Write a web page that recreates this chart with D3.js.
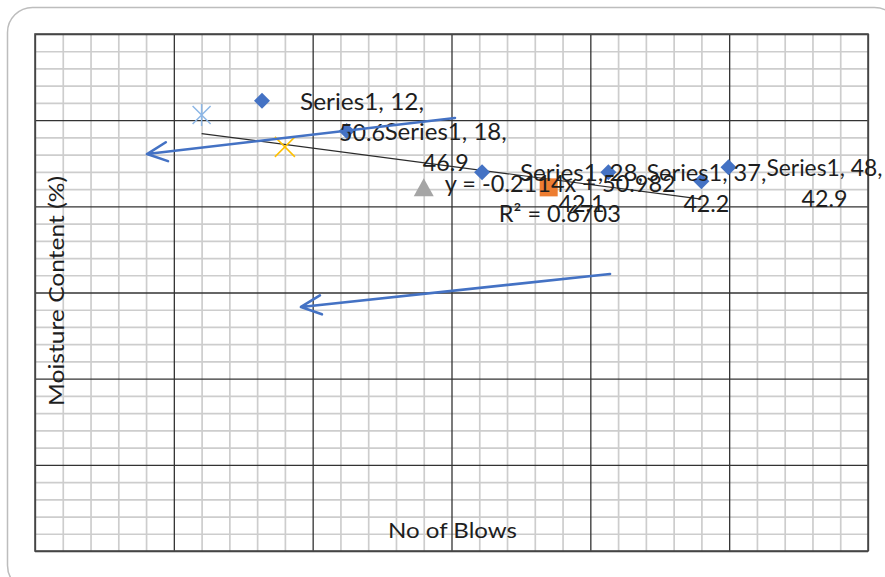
<!DOCTYPE html>
<html>
<head>
<meta charset="utf-8">
<script src="https://cdn.jsdelivr.net/npm/d3@7/dist/d3.min.js"></script>
<style>
  html, body { margin: 0; padding: 0; background: #fff; }
  svg { display: block; }
  text { font-family: Lato, "Open Sans", "Liberation Sans", sans-serif; fill: #1e1e1e; }
</style>
</head>
<body>
<div id="chart"></div>
<script>
// ---------------- data ----------------
const blows = [12, 18, 28, 37, 48];
const moisture = [50.6, 46.9, 42.1, 42.2, 42.9];
const seriesNames = ["Series1", "Series1", "Series1", "Series1", "Series1"];
// displaced copy of the points that carries the data labels (as drawn in the picture)
const labelBlows = [16.35, 22.45, 32.2, 41.3, 49.95];
const labelMoisture = [52.25, 48.74, 43.95, 43.95, 44.55];
const trendSlope = -0.2114;
const trendIntercept = 50.982;
const trendR2 = 0.6703;
const trendLabelAt = [37.8, 41.7];
const xDomain = [0, 60];
const yDomain = [0, 60];
const minorStep = 2;
const majorStep = 10;
const xTitle = "No of Blows";
const yTitle = "Moisture Content (%)";
// annotation arrows (data units): start -> tip
const arrowStart = [[30.25, 50.25], [41.42, 32.15]];
const arrowTip = [[8.07, 46.07], [19.16, 28.32]];

// ---------------- layout / style ----------------
const W = 885, H = 577;
const plot = { left: 35, right: 868, top: 34, bottom: 551 };
const markerShapes = ["asterisk", "x", "triangle", "square", "diamond"];
const markerColors = ["#8db7e6", "#ffc000", "#a5a5a5", "#ed7d31", "#4472c4"];
const labelLineWidths = [124, 122, 123, 120, 116];

const svg = d3.select("#chart").append("svg").attr("width", W).attr("height", H);

// chart outer border (rounded, partly outside the window)
svg.append("rect")
  .attr("x", 7.5).attr("y", 7.5).attr("width", 892).attr("height", 583)
  .attr("rx", 25).attr("ry", 25)
  .attr("fill", "#fff").attr("stroke", "#bdbdbd").attr("stroke-width", 1.5);

const x = d3.scaleLinear().domain(xDomain).range([plot.left, plot.right]);
const y = d3.scaleLinear().domain(yDomain).range([plot.bottom, plot.top]);

const g = svg.append("g");

const xMinor = d3.range(xDomain[0], xDomain[1] + 0.001, minorStep).filter(v => v % majorStep !== 0);
const yMinor = d3.range(yDomain[0], yDomain[1] + 0.001, minorStep).filter(v => v % majorStep !== 0);
const xMajor = d3.range(xDomain[0], xDomain[1] + 0.001, majorStep);
const yMajor = d3.range(yDomain[0], yDomain[1] + 0.001, majorStep);

// minor grid via axes
g.append("g").attr("transform", `translate(0,${plot.bottom})`)
  .call(d3.axisBottom(x).tickValues(xMinor).tickSize(-(plot.bottom - plot.top)).tickFormat(""))
  .call(s => s.select(".domain").remove())
  .call(s => s.selectAll("line").attr("stroke", "#cdcdcd").attr("stroke-width", 1.7));
g.append("g").attr("transform", `translate(${plot.left},0)`)
  .call(d3.axisLeft(y).tickValues(yMinor).tickSize(-(plot.right - plot.left)).tickFormat(""))
  .call(s => s.select(".domain").remove())
  .call(s => s.selectAll("line").attr("stroke", "#cdcdcd").attr("stroke-width", 1.7));
// major grid
g.append("g").attr("transform", `translate(0,${plot.bottom})`)
  .call(d3.axisBottom(x).tickValues(xMajor).tickSize(-(plot.bottom - plot.top)).tickFormat(""))
  .call(s => s.select(".domain").remove())
  .call(s => s.selectAll("line").attr("stroke", "#333").attr("stroke-width", 1.3));
g.append("g").attr("transform", `translate(${plot.left},0)`)
  .call(d3.axisLeft(y).tickValues(yMajor).tickSize(-(plot.right - plot.left)).tickFormat(""))
  .call(s => s.select(".domain").remove())
  .call(s => s.selectAll("line").attr("stroke", "#333").attr("stroke-width", 1.3));
// plot border
g.append("rect")
  .attr("x", x(xDomain[0])).attr("y", y(yDomain[1]))
  .attr("width", x(xDomain[1]) - x(xDomain[0])).attr("height", y(yDomain[0]) - y(yDomain[1]))
  .attr("fill", "none").attr("stroke", "#4a4a4a").attr("stroke-width", 1.6);

// axis titles (inside plot, as in the picture)
g.append("text")
  .attr("transform", `translate(64,406) rotate(-90)`)
  .attr("font-size", 21).attr("textLength", 230).attr("lengthAdjust", "spacingAndGlyphs")
  .text(yTitle);
g.append("text")
  .attr("x", 388).attr("y", 538)
  .attr("font-size", 21).attr("textLength", 129).attr("lengthAdjust", "spacingAndGlyphs")
  .text(xTitle);

// trendline
const xMin = d3.min(blows), xMax = d3.max(blows);
g.append("line")
  .attr("x1", x(xMin)).attr("y1", y(trendSlope * xMin + trendIntercept))
  .attr("x2", x(xMax)).attr("y2", y(trendSlope * xMax + trendIntercept))
  .attr("stroke", "#2b2b2b").attr("stroke-width", 1.2);

// markers
function drawMarker(sel, shape, color, cx, cy) {
  const mg = sel.append("g").attr("transform", `translate(${cx},${cy})`);
  if (shape === "asterisk") {
    const r = 9;
    mg.append("path").attr("d", `M${-r},${-r}L${r},${r}M${-r},${r}L${r},${-r}M0,${-r - 2}L0,${r + 2}`)
      .attr("stroke", color).attr("stroke-width", 1.5).attr("fill", "none");
  } else if (shape === "x") {
    const r = 10;
    mg.append("path").attr("d", `M${-r},${-r}L${r},${r}M${-r},${r}L${r},${-r}`)
      .attr("stroke", color).attr("stroke-width", 1.5).attr("fill", "none");
  } else if (shape === "triangle") {
    mg.append("path").attr("d", "M0,-10L10,8L-10,8Z").attr("fill", color);
  } else if (shape === "square") {
    mg.append("rect").attr("x", -9).attr("y", -9).attr("width", 18).attr("height", 18).attr("fill", color);
  } else {
    mg.append("path").attr("d", "M0,-8L8,0L0,8L-8,0Z").attr("fill", color);
  }
}
blows.forEach((b, i) => drawMarker(g, markerShapes[i], markerColors[i], x(b), y(moisture[i])));

// displaced labelled diamonds
labelBlows.forEach((b, i) => drawMarker(g, "diamond", "#4472c4", x(b), y(labelMoisture[i])));

// data labels
blows.forEach((b, i) => {
  const px = x(labelBlows[i]) + 38;
  const py = y(labelMoisture[i]) + 9;
  const w1 = labelLineWidths[i];
  g.append("text").attr("x", px).attr("y", py)
    .attr("font-size", 24).attr("textLength", w1).attr("lengthAdjust", "spacingAndGlyphs")
    .text(`${seriesNames[i]}, ${b},`);
  g.append("text").attr("x", px + w1 / 2 - 23).attr("y", py + 31)
    .attr("font-size", 24).attr("textLength", 46).attr("lengthAdjust", "spacingAndGlyphs")
    .text(d3.format(".1f")(moisture[i]));
});

// trendline label
const tlx = x(trendLabelAt[0]), tly = y(trendLabelAt[1]);
g.append("text").attr("x", tlx - 115).attr("y", tly)
  .attr("font-size", 24).attr("textLength", 231).attr("lengthAdjust", "spacingAndGlyphs")
  .text(`y = ${trendSlope}x + ${trendIntercept}`);
g.append("text").attr("x", tlx - 61).attr("y", tly + 30)
  .attr("font-size", 24).attr("textLength", 122).attr("lengthAdjust", "spacingAndGlyphs")
  .text(`R² = ${trendR2}`);

// arrows
arrowStart.forEach((s, i) => {
  const t = arrowTip[i];
  const x1 = x(s[0]), y1 = y(s[1]), x2 = x(t[0]), y2 = y(t[1]);
  const dx = x1 - x2, dy = y1 - y2, len = Math.hypot(dx, dy);
  const ux = dx / len, uy = dy / len, L = 20, hw = 9.5;
  const a = [x2 + ux * L - uy * hw, y2 + uy * L + ux * hw];
  const c = [x2 + ux * L + uy * hw, y2 + uy * L - ux * hw];
  g.append("path")
    .attr("d", `M${x1},${y1}L${x2},${y2}M${a[0]},${a[1]}L${x2},${y2}L${c[0]},${c[1]}`)
    .attr("stroke", "#4472c4").attr("stroke-width", 2.6).attr("fill", "none")
    .attr("stroke-linecap", "round").attr("stroke-linejoin", "round");
});
</script>
</body>
</html>
